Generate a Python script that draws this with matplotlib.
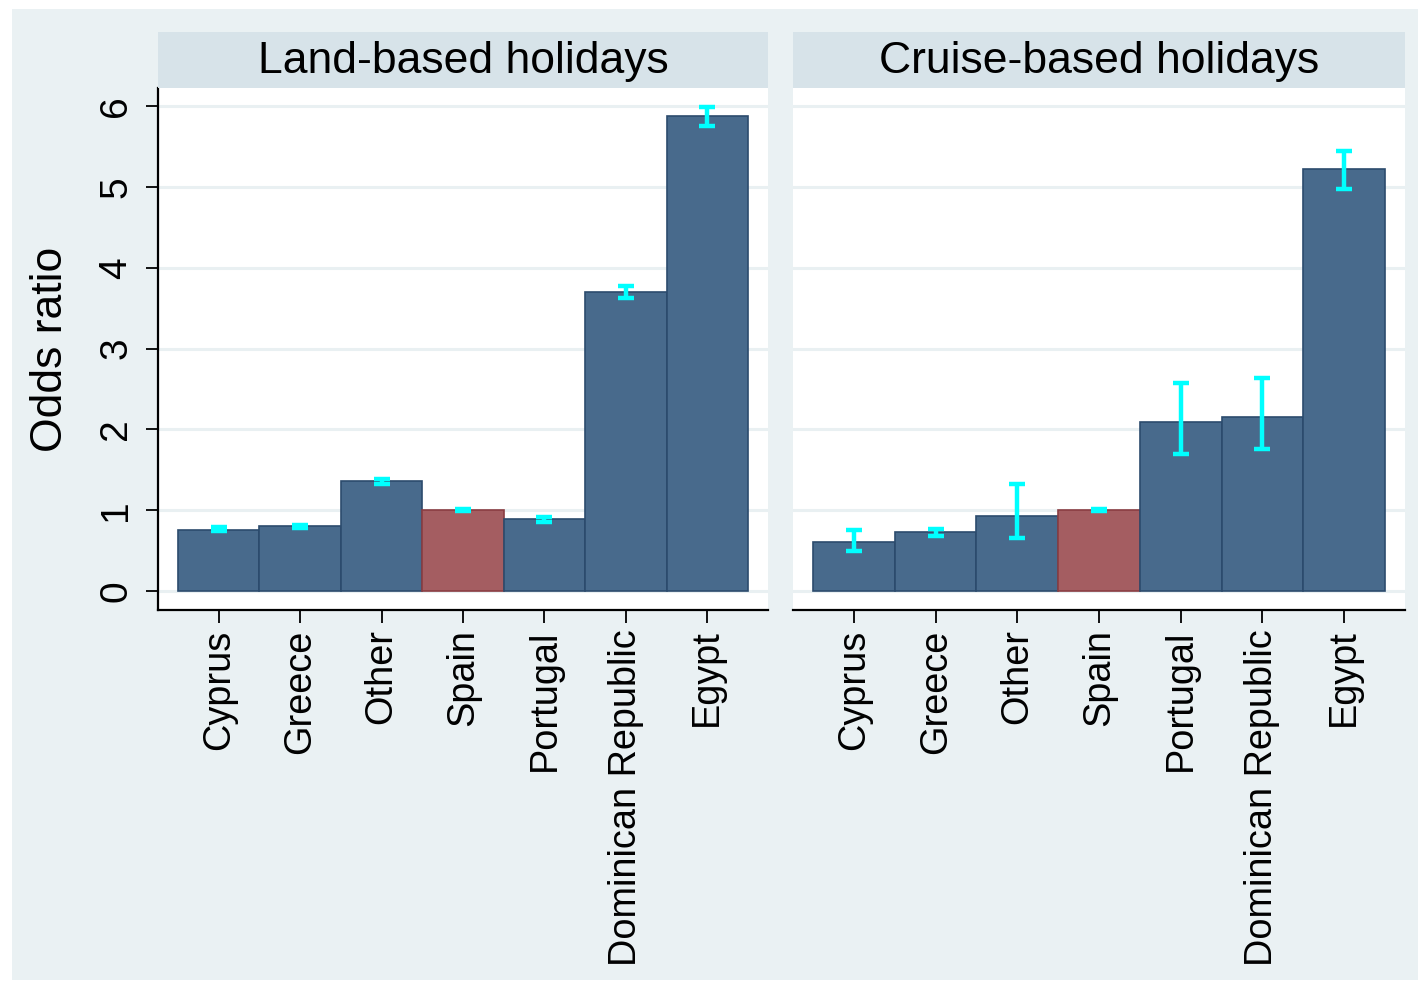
import matplotlib
matplotlib.use("Agg")
import matplotlib.pyplot as plt
from matplotlib.patches import Rectangle

plt.rcParams['font.family'] = ['Liberation Sans', 'DejaVu Sans']

# data
countries = ["Cyprus", "Greece", "Other", "Spain", "Portugal", "Dominican Republic", "Egypt"]
land_or = [0.76, 0.80, 1.36, 1.00, 0.89, 3.70, 5.88]
land_lo = [0.74, 0.78, 1.33, 0.99, 0.86, 3.62, 5.76]
land_hi = [0.79, 0.82, 1.39, 1.01, 0.92, 3.78, 5.99]
cruise_or = [0.61, 0.73, 0.93, 1.00, 2.09, 2.15, 5.22]
cruise_lo = [0.49, 0.68, 0.66, 0.99, 1.70, 1.76, 4.98]
cruise_hi = [0.76, 0.77, 1.32, 1.01, 2.57, 2.64, 5.45]
panel_titles = ["Land-based holidays", "Cruise-based holidays"]
y_ticks = [0, 1, 2, 3, 4, 5, 6]
reference = "Spain"

bar_col = "#486a8c"
bar_edge = "#2c4b6d"
ref_col = "#a45d61"
ref_edge = "#8a3d42"
bg_col = "#eaf1f3"
strip_col = "#d7e3e9"
grid_col = "#e9f0f2"

W, H = 1422, 982
fig = plt.figure(figsize=(W / 100, H / 100), dpi=100)
fig.patch.set_facecolor("white")
fig.patches.append(Rectangle((12 / W, 1 - 980 / H), (1418 - 12) / W, (980 - 9) / H,
                             transform=fig.transFigure, facecolor=bg_col,
                             edgecolor="none", zorder=-10))


def px_axes(x0, x1, y0, y1):
    return fig.add_axes([x0 / W, 1 - y1 / H, (x1 - x0) / W, (y1 - y0) / H])


panels = [
    (158, 768, land_or, land_lo, land_hi),
    (793, 1405, cruise_or, cruise_lo, cruise_hi),
]

for i, (x0, x1, vals, lo, hi) in enumerate(panels):
    ax = px_axes(x0, x1, 88, 610)
    ax.set_facecolor("white")
    pos = list(range(len(countries)))
    fills = [ref_col if c == reference else bar_col for c in countries]
    edges = [ref_edge if c == reference else bar_edge for c in countries]
    ax.bar(pos, vals, width=1.0, color=fills, edgecolor=edges, linewidth=1.2, zorder=2)
    yerr = [[v - l for v, l in zip(vals, lo)], [h - v for v, h in zip(vals, hi)]]
    ax.errorbar(pos, vals, yerr=yerr, fmt="none", ecolor="#00ffff",
                elinewidth=3.2, capsize=5.5, capthick=3.2, zorder=3)
    for t in y_ticks:
        ax.axhline(t, color=grid_col, linewidth=2.2, zorder=1)
    ax.set_xlim(-0.746, len(countries) - 0.254)
    ax.set_ylim(-0.235, 6.225)
    ax.set_xticks(pos)
    ax.set_xticklabels(countries, rotation=90, fontsize=27.3)
    ax.tick_params(axis="x", length=9, width=1.3, pad=5, direction="out")
    for s in ["top", "right"]:
        ax.spines[s].set_visible(False)
    ax.spines["bottom"].set_linewidth(1.6)
    if i == 0:
        ax.set_yticks(y_ticks)
        ax.set_yticklabels([str(t) for t in y_ticks], rotation=90, va="center", fontsize=28)
        ax.tick_params(axis="y", length=9, width=1.3, pad=8)
        ax.spines["left"].set_linewidth(1.6)
        ax.set_ylabel("Odds ratio", fontsize=32, labelpad=20)
    else:
        ax.set_yticks([])
        ax.spines["left"].set_visible(False)

    strip = px_axes(x0, x1, 32, 88)
    strip.set_facecolor(strip_col)
    strip.set_xticks([])
    strip.set_yticks([])
    for s in strip.spines.values():
        s.set_visible(False)
    strip.text(0.5, 0.47, panel_titles[i], ha="center", va="center",
               fontsize=32, transform=strip.transAxes)

fig.savefig("out.png", dpi=100, facecolor=fig.get_facecolor())
